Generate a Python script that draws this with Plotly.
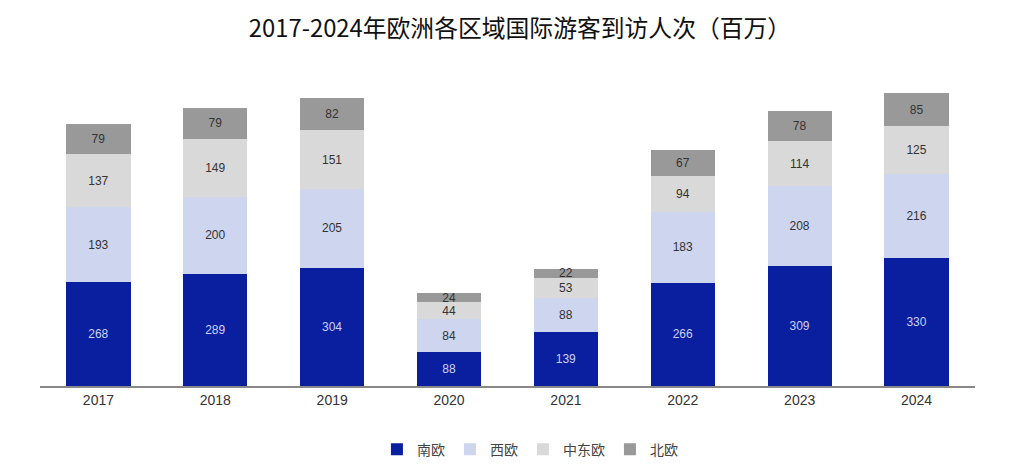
import plotly.graph_objects as go

years = ["2017", "2018", "2019", "2020", "2021", "2022", "2023", "2024"]
south = [268, 289, 304, 88, 139, 266, 309, 330]
west = [193, 200, 205, 84, 88, 183, 208, 216]
central_east = [137, 149, 151, 44, 53, 94, 114, 125]
north = [79, 79, 82, 24, 22, 67, 78, 85]

series = [
    ("南欧", south, "#0a1f9f", "#c9d2f5"),
    ("西欧", west, "#cdd5ef", "#333333"),
    ("中东欧", central_east, "#d9d9d9", "#333333"),
    ("北欧", north, "#999999", "#333333"),
]

fig = go.Figure()
for name, vals, color, tcolor in series:
    fig.add_trace(go.Bar(
        x=years, y=vals, name=name,
        marker=dict(color=color, line=dict(width=0)),
        text=vals, textposition="inside", insidetextanchor="middle",
        textangle=0,
        textfont=dict(color=tcolor, size=12),
    ))

fig.update_layout(
    barmode="stack",
    bargap=0.45,
    width=1024, height=475,
    margin=dict(l=32, r=57, t=68, b=97),
    paper_bgcolor="white", plot_bgcolor="white",
    font=dict(family="Liberation Sans, Noto Sans CJK SC, sans-serif", color="#333333"),
    title=dict(text="2017-2024年欧洲各区域国际游客到访人次（百万）",
               x=0.5, xanchor="center", y=0.957, yanchor="middle",
               font=dict(size=23.8, color="#111111",
                         family="Noto Sans CJK SC, sans-serif")),
    uniformtext=dict(minsize=12, mode="show"),
    legend=dict(orientation="h", x=0.524, xanchor="center", y=-0.205, yanchor="middle",
                font=dict(size=14, color="#444444", family="Noto Sans CJK SC, sans-serif"),
                traceorder="normal"),
    showlegend=True,
)
fig.update_xaxes(showline=True, linecolor="#888888", linewidth=1.5, ticks="",
                 tickfont=dict(size=14, color="#333333"))
fig.update_yaxes(visible=False, range=[0, 800])

fig.write_html("out.html")
